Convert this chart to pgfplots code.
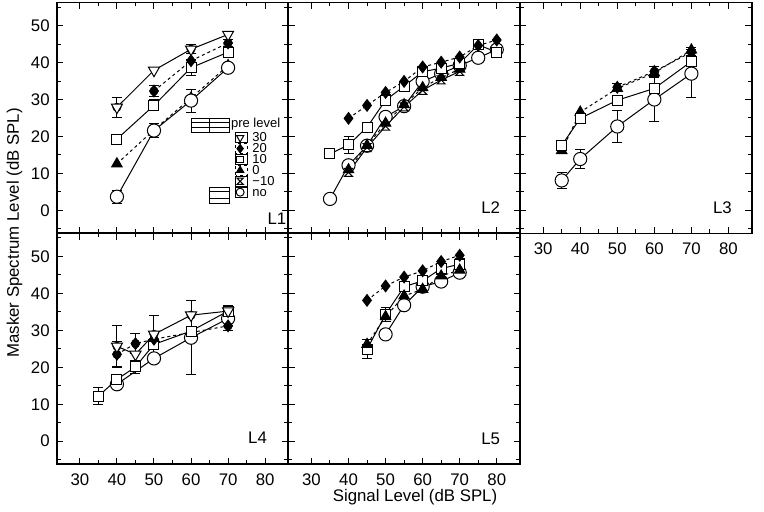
\documentclass[border=0pt]{standalone}
\usepackage{fontspec}
\setmainfont{Liberation Sans}
\usepackage{pgfplots}
\pgfplotsset{compat=1.18}

\pgfdeclareplotmark{hourglass}{%
  \pgfpathmoveto{\pgfqpoint{-\pgfplotmarksize}{\pgfplotmarksize}}%
  \pgfpathlineto{\pgfqpoint{\pgfplotmarksize}{\pgfplotmarksize}}%
  \pgfpathlineto{\pgfqpoint{-\pgfplotmarksize}{-\pgfplotmarksize}}%
  \pgfpathlineto{\pgfqpoint{\pgfplotmarksize}{-\pgfplotmarksize}}%
  \pgfpathclose
  \pgfusepathqstroke}

\pgfplotsset{
  panel/.style={scale only axis, width=115.8pt, height=115.5pt,
    xmin=23.75, xmax=86.25, ymin=-6.25, ymax=56.25,
    xtick={30,40,...,80}, minor xtick={35,45,...,75},
    ytick={0,10,...,50}, minor ytick={-5,5,...,55},
    tick align=inside, major tick length=3.2pt, minor tick length=2pt,
    axis line style={line width=0.9pt},
    every tick/.style={black, line width=0.5pt},
    tick label style={font=\fontsize{8.4}{10}\selectfont},
    /pgf/number format/assume math mode=true,
    xticklabel style={yshift=-1.2pt},
  },
  noxl/.style={xticklabels={}},
  noyl/.style={yticklabels={}},
  s30/.style={black, line width=0.5pt, mark=triangle*, mark size=3.2pt, mark options={solid, rotate=180, fill=white}},
  s20/.style={black, line width=0.5pt, dash pattern=on 1.5pt off 1.5pt, mark=diamond*, mark size=2.9pt, mark options={solid, fill=black}},
  s10/.style={black, line width=0.5pt, mark=square*, mark size=2.5pt, mark options={solid, fill=white}},
  s0/.style={black, line width=0.5pt, dash pattern=on 1.5pt off 1.5pt, mark=triangle*, mark size=3pt, mark options={solid, fill=black}},
  sm10/.style={black, line width=0.5pt, mark=hourglass, mark size=2pt, mark options={solid}},
  sno/.style={black, line width=0.5pt, mark=*, mark size=3.3pt, mark options={solid, fill=white}},
  eb/.style={forget plot, only marks, mark=none, black, line width=0.5pt,
    error bars/.cd, y dir=both, y explicit,
    error bar style={line width=0.5pt, solid, black},
    error mark options={rotate=90, mark size=2.5pt, line width=0.5pt, black}},
}
\newcommand{\lab}{\fontsize{8.4}{10}\selectfont}
\newcommand{\legf}{\fontsize{6.5}{7}\selectfont}

\begin{document}
\begin{tikzpicture}
\path[use as bounding box] (0,0) rectangle (382pt,256pt);

% ---------------- L1 ----------------
\begin{axis}[panel, noxl, at={(28.35pt,139.25pt)}, anchor=south west,
  legend cell align=left,
  legend image code/.code={\path (0pt,-2.475pt) rectangle (5.8pt,2.475pt);
    \begin{pgfinterruptboundingbox}\draw[#1] plot coordinates {(2.1pt,0pt)};\end{pgfinterruptboundingbox}},
  legend style={draw=none, fill=none, at={(0.770,0.44)}, anchor=north west,
    font=\legf, inner sep=0pt, row sep=0pt, column sep=0pt,
    nodes={inner sep=0pt, text height=4pt, text depth=0pt, anchor=west}}]
\addplot[eb] table[x index=0, y index=1, y error index=2] {
40 3.7 1.8
50 21.6 1.8
60 29.7 3.1
70 38.6 1.2
50 28.4 1.5
60 38.6 2.1
70 42.8 1.3
50 32.3 1.6
70 45.3 1.0
40 27.9 2.7
60 43.6 1.2
};
\addplot[s0, forget plot] table {
40 12.6
50 21.8
60 30.4
70 39.2
};
\addplot[sno, forget plot] table {
40 3.7
50 21.6
60 29.7
70 38.6
};
\addplot[s10, forget plot] table {
40 19.3
50 28.4
60 38.6
70 42.8
};
\addplot[s20, forget plot] table {
50 32.3
60 40.5
70 45.3
};
\addplot[s30, forget plot] table {
40 27.9
50 37.9
60 43.6
70 47.6
};
\addlegendimage{s30, mark size=2.1pt}\addlegendentry{\hspace*{2.2pt}30}
\addlegendimage{s20, mark size=2.1pt}\addlegendentry{\hspace*{2.2pt}20}
\addlegendimage{s10, mark size=1.7pt}\addlegendentry{\hspace*{2.2pt}10}
\addlegendimage{s0, mark size=2.1pt}\addlegendentry{\hspace*{2.2pt}0}
\addlegendimage{sm10, mark size=1.6pt}\addlegendentry{\hspace*{2.2pt}−10}
\addlegendimage{sno, mark size=2pt}\addlegendentry{\hspace*{2.2pt}no}
\node[anchor=west, font=\legf, inner sep=0pt] at (rel axis cs:0.751,0.472) {pre level};
\draw[line width=0.5pt] (axis cs:60.0,24.9) rectangle (axis cs:70.25,21.2);
\draw[line width=0.5pt] (axis cs:60.0,23.8) -- (axis cs:70.25,23.8);
\draw[line width=0.5pt] (axis cs:60.0,22.4) -- (axis cs:70.25,22.4);
\draw[line width=0.5pt] (axis cs:65.1,24.9) -- (axis cs:65.1,21.2);
\draw[line width=0.5pt] (axis cs:64.9,6.2) rectangle (axis cs:70.4,1.9);
\draw[line width=0.5pt] (axis cs:64.9,5.0) -- (axis cs:70.4,5.0);
\draw[line width=0.5pt] (axis cs:64.9,3.2) -- (axis cs:70.4,3.2);
\node[font=\lab] at (rel axis cs:0.951,0.063) {L1};
\end{axis}

% ---------------- L2 ----------------
\begin{axis}[panel, noxl, noyl, at={(144.15pt,139.25pt)}, anchor=south west]
\addplot[eb] table[x index=0, y index=1, y error index=2] {
40 17.7 2.2
50 29.8 1.5
75 44.8 1.0
80 42.8 1.2
60 37.5 1.0
};
\addplot[sno] table {
35 3.1
40 12.2
45 17.5
50 25.3
55 28.2
60 34.9
65 37.0
70 39.2
75 41.3
80 43.5
};
\addplot[sm10] table {
40 10.3
45 17.0
50 22.8
55 28.0
60 32.5
65 35.3
70 37.6
};
\addplot[s0] table {
40 11.0
45 17.6
50 23.6
55 28.6
60 33.2
65 36.0
70 38.2
};
\addplot[s10] table {
35 15.3
40 17.7
45 22.5
50 29.8
55 33.6
60 37.5
65 38.5
70 39.8
75 44.8
80 42.8
};
\addplot[s20] table {
40 24.9
45 28.4
50 31.9
55 34.9
60 38.8
65 40.1
70 41.5
75 44.6
80 46.1
};
\node[font=\lab] at (rel axis cs:0.874,0.112) {L2};
\end{axis}

% ---------------- L3 ----------------
\begin{axis}[panel, noyl, at={(260pt,139.25pt)}, anchor=south west]
\addplot[eb] table[x index=0, y index=1, y error index=2] {
35 8.1 2.1
40 13.9 2.7
50 22.7 4.2
60 30.0 6.0
70 37.0 6.4
60 33.0 1.2
70 40.3 1.5
50 33.3 1.0
60 37.6 1.3
70 42.8 1.3
};
\addplot[sno] table {
35 8.1
40 13.9
50 22.7
60 30.0
70 37.0
};
\addplot[s0] table {
35 16.2
40 26.6
50 33.0
60 37.2
70 43.4
};
\addplot[s20] table {
50 33.3
60 37.6
70 42.8
};
\addplot[s10] table {
35 17.6
40 24.9
50 29.8
60 33.0
70 40.3
};
\node[font=\lab] at (rel axis cs:0.874,0.112) {L3};
\end{axis}

% ---------------- L4 ----------------
\begin{axis}[panel, at={(28.35pt,23.85pt)}, anchor=south west]
\addplot[eb] table[x index=0, y index=1, y error index=2] {
60 28.0 10.0
35 12.2 2.2
45 20.1 1.7
50 26.2 1.2
70 35.2 1.5
40 23.5 3.5
45 26.4 2.7
70 31.2 1.3
40 25.7 5.6
50 28.9 5.2
60 34.1 4.0
};
\addplot[sno] table {
40 15.4
50 22.4
60 28.0
70 33.2
};
\addplot[s10] table {
35 12.2
40 16.7
45 20.1
50 26.2
60 29.8
70 35.2
};
\addplot[s0] table {
50 27.8
};
\addplot[s20] table {
40 23.5
45 26.4
50 27.6
70 31.2
};
\addplot[s30] table {
40 25.7
45 23.5
50 28.9
60 34.1
70 35.2
};
\node[font=\lab] at (rel axis cs:0.867,0.113) {L4};
\end{axis}

% ---------------- L5 ----------------
\begin{axis}[panel, noyl, at={(144.15pt,23.85pt)}, anchor=south west]
\addplot[eb] table[x index=0, y index=1, y error index=2] {
45 24.9 2.5
50 34.3 2.0
55 41.8 0.8
65 46.7 1.5
70 47.9 1.5
};
\addplot[sno] table {
50 28.9
55 36.8
60 41.8
65 43.2
70 45.6
};
\addplot[s10] table {
45 24.9
50 34.3
55 41.8
60 43.4
65 46.7
70 47.9
};
\addplot[s0] table {
45 26.2
50 33.7
55 39.3
60 41.1
65 44.7
70 46.3
};
\addplot[s20] table {
45 38.1
50 42.0
55 44.4
60 46.1
65 48.6
70 50.3
};
\node[font=\lab] at (rel axis cs:0.874,0.11) {L5};
\end{axis}

\node[rotate=90, font=\lab] at (7.25pt,139.5pt) {Masker Spectrum Level (dB SPL)};
\node[font=\lab] at (207.5pt,7.5pt) {Signal Level (dB SPL)};
\end{tikzpicture}
\end{document}
